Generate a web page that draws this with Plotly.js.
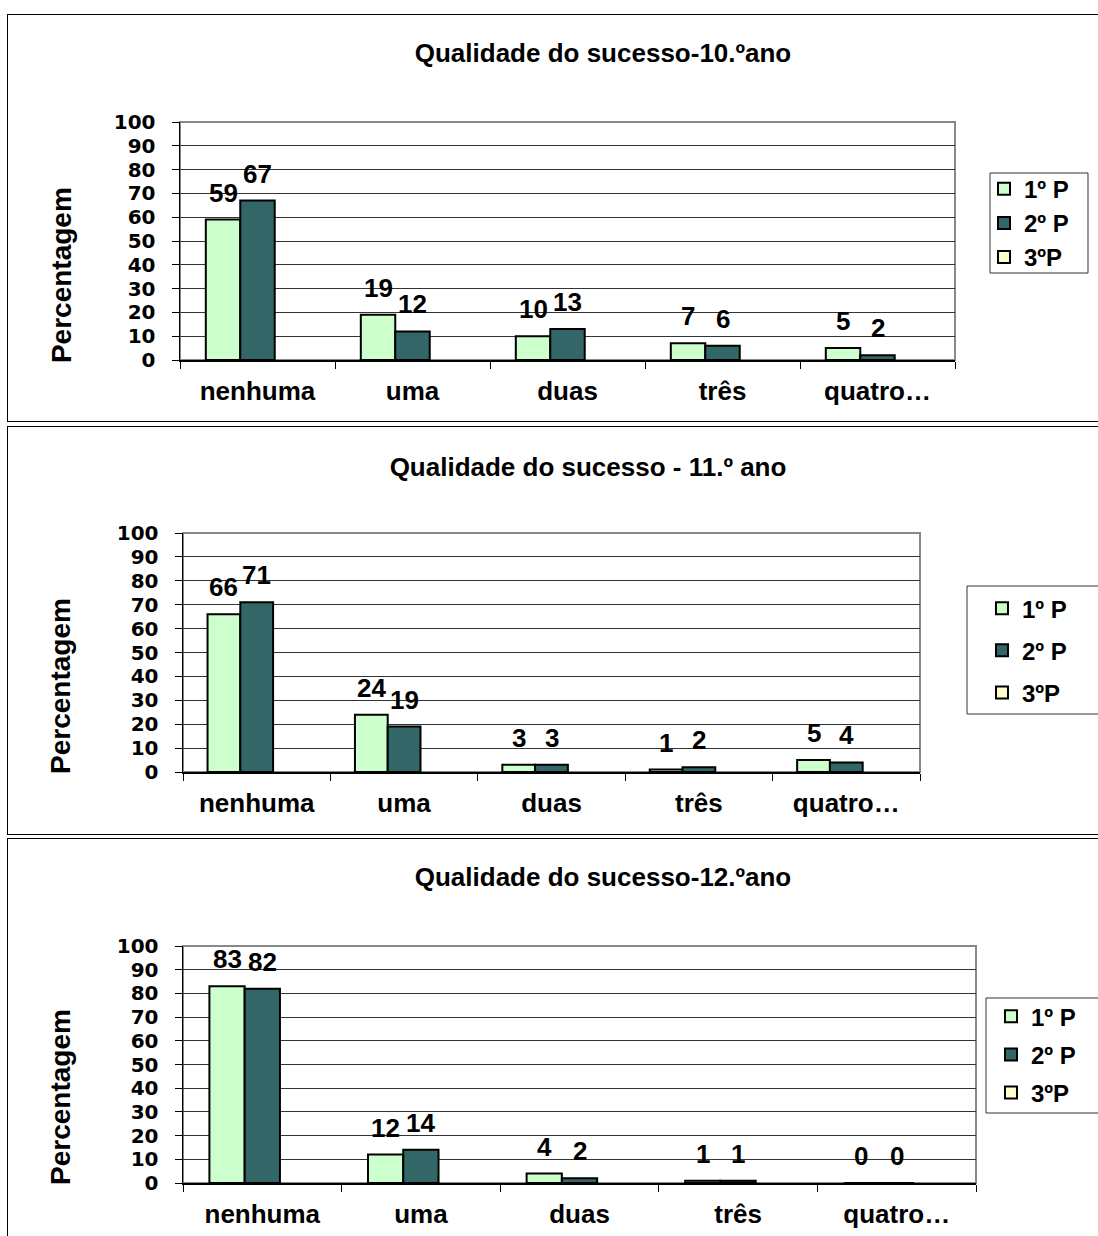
<!DOCTYPE html>
<html>
<head>
<meta charset="utf-8">
<script src="https://cdn.plot.ly/plotly-3.0.1.min.js"></script>
<style>
  html, body { margin: 0; padding: 0; background: #fff; width: 1098px; height: 1236px; overflow: hidden; position: relative; }
  .panel { position: absolute; left: 7px; border: 1px solid #000; background: #fff; }
</style>
</head>
<body>
<div class="panel" style="top:14px;"><div id="p10"></div></div>
<div class="panel" style="top:426px;"><div id="p11"></div></div>
<div class="panel" style="top:838px;"><div id="p12"></div></div>
<script>
// ---- data ----
const categories = ['nenhuma', 'uma', 'duas', 'três', 'quatro…'];
const seriesNames = ['1º P', '2º P', '3ºP'];
const seriesColors = ['#CCFFCC', '#336666', '#FFFFCC'];

const titles = ['Qualidade do sucesso-10.ºano', 'Qualidade do sucesso - 11.º ano', 'Qualidade do sucesso-12.ºano'];
const yTitle = 'Percentagem';
const yTicks = [0, 10, 20, 30, 40, 50, 60, 70, 80, 90, 100];

const ano10_p1 = [59, 19, 10, 7, 5];
const ano10_p2 = [67, 12, 13, 6, 2];
const ano10_p3 = [null, null, null, null, null];

const ano11_p1 = [66, 24, 3, 1, 5];
const ano11_p2 = [71, 19, 3, 2, 4];
const ano11_p3 = [null, null, null, null, null];

const ano12_p1 = [83, 12, 4, 1, 0];
const ano12_p2 = [82, 14, 2, 1, 0];
const ano12_p3 = [null, null, null, null, null];

// ---- layout specs (pixels / paper fractions) ----
const FONT = 'Liberation Sans, Arial, Helvetica, sans-serif';
const TICKFONT = 'DejaVu Sans, Liberation Sans, Arial, sans-serif';
const panels = [
  { id: 'p10', title: titles[0], data: [ano10_p1, ano10_p2, ano10_p3],
    W: 1120, H: 406, l: 172, t: 107, pw: 775, ph: 238,
    titleX: 595, titleY: 38,
    legX: 1.0374, legY: 0.8126, legGap: 0,
    box: [1.0452, 1.1716, 0.3655, 0.7857],
    yTitleX: -0.1535, yTitleY: 0.357 },
  { id: 'p11', title: titles[1], data: [ano11_p1, ano11_p2, ano11_p3],
    W: 1120, H: 407, l: 175, t: 106, pw: 737, ph: 239,
    titleX: 580, titleY: 40,
    legX: 1.0841, legY: 0.778, legGap: 8,
    box: [1.0638, 1.2578, 0.2427, 0.7782],
    yTitleX: -0.1655, yTitleY: 0.36 },
  { id: 'p12', title: titles[2], data: [ano12_p1, ano12_p2, ano12_p3],
    W: 1120, H: 420, l: 175, t: 107, pw: 793, ph: 237,
    titleX: 595, titleY: 38,
    legX: 1.0189, legY: 0.797, legGap: 4,
    box: [1.0126, 1.169, 0.2954, 0.7806],
    yTitleX: -0.1538, yTitleY: 0.363 }
];

const BARGAP = 0.333;

panels.forEach(p => {
  const el = document.getElementById(p.id);
  el.style.width = p.W + 'px';
  el.style.height = p.H + 'px';

  const traces = p.data.map((vals, i) => ({
    type: 'bar',
    name: seriesNames[i],
    x: categories,
    y: vals,
    legendgroup: 'g' + i,
    marker: { color: seriesColors[i], line: { color: '#000', width: 2 } },
    hoverinfo: 'skip'
  }));

  const barW = p.pw / categories.length * (1 - BARGAP) / 3;
  const annotations = [];
  for (let s = 0; s < 2; s++) {
    p.data[s].forEach((v, k) => {
      annotations.push({
        x: categories[k], y: v, xref: 'x', yref: 'y',
        text: String(v), showarrow: false,
        xshift: (s - 1) * barW, yshift: 27,
        xanchor: 'center', yanchor: 'middle',
        font: { family: FONT, size: 26, color: '#000', weight: 'bold' }
      });
    });
  }
  annotations.push({
    x: p.yTitleX, y: p.yTitleY, xref: 'paper', yref: 'paper',
    text: yTitle, textangle: -90, showarrow: false,
    xanchor: 'center', yanchor: 'middle',
    font: { family: FONT, size: 28, color: '#000', weight: 'bold' }
  });

  const layout = {
    width: p.W, height: p.H,
    margin: { l: p.l, t: p.t, r: p.W - p.l - p.pw, b: p.H - p.t - p.ph, pad: 0 },
    paper_bgcolor: '#fff', plot_bgcolor: '#fff',
    barmode: 'group', bargap: BARGAP, bargroupgap: 0,
    title: {
      text: p.title, xref: 'container', yref: 'container',
      x: p.titleX / p.W, y: 1 - p.titleY / p.H, xanchor: 'center', yanchor: 'middle',
      font: { family: FONT, size: 26, color: '#000', weight: 'bold' }
    },
    xaxis: {
      type: 'category', showgrid: false, showline: true, linecolor: '#000', linewidth: 1.5,
      ticks: 'outside', tickson: 'boundaries', ticklen: 7, tickcolor: '#000', tickwidth: 1,
      ticklabelstandoff: 7,
      tickfont: { family: FONT, size: 26, color: '#000', weight: 'bold' },
      fixedrange: true
    },
    yaxis: {
      range: [0, 100], tickvals: yTicks, ticktext: yTicks.map(String),
      showgrid: true, gridcolor: '#333', gridwidth: 1, zeroline: false,
      showline: true, linecolor: '#000', linewidth: 1.5,
      ticks: 'outside', ticklen: 7, tickcolor: '#000', tickwidth: 1,
      ticklabelstandoff: 12,
      tickfont: { family: TICKFONT, size: 20, color: '#000', weight: 'bold' },
      fixedrange: true
    },
    showlegend: true,
    legend: {
      x: p.legX, y: p.legY, xanchor: 'left', yanchor: 'top',
      bgcolor: 'rgba(0,0,0,0)', borderwidth: 0,
      tracegroupgap: p.legGap, traceorder: 'grouped',
      font: { family: FONT, size: 24, color: '#000', weight: 'bold' }
    },
    shapes: [
      { type: 'rect', xref: 'paper', yref: 'paper', x0: 0, x1: 1, y0: 0, y1: 1,
        line: { color: '#888', width: 2 }, layer: 'below' },
      { type: 'rect', xref: 'paper', yref: 'paper',
        x0: p.box[0], x1: p.box[1], y0: p.box[2], y1: p.box[3],
        line: { color: '#333', width: 1 }, fillcolor: '#fff', layer: 'below' }
    ],
    annotations: annotations
  };

  Plotly.newPlot(p.id, traces, layout, { displayModeBar: false, staticPlot: true });
});
</script>
</body>
</html>
